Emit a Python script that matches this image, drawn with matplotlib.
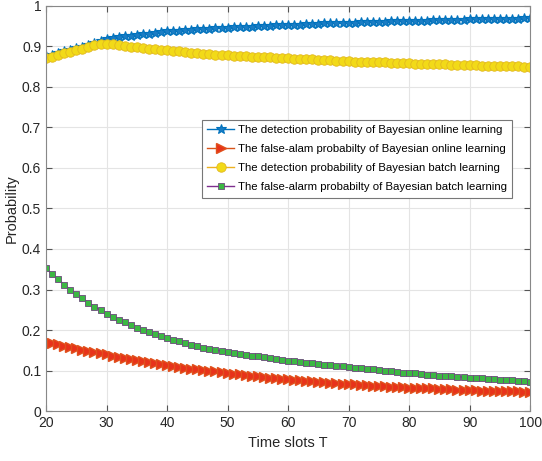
import matplotlib

matplotlib.use("Agg")
import matplotlib.pyplot as plt

plt.rcParams["font.family"] = ["Liberation Sans", "DejaVu Sans"]

# Time slots T = 20 .. 100 (one marker per slot)
time_slots = list(range(20, 101))

# Values
online_detection = [
    .875, .879, .883, .887, .891, .895, .899, .903, .908, .913,
    .918, .920, .922, .924, .926, .928, .929, .931, .932, .934,
    .936, .937, .938, .939, .940, .941, .942, .943, .944, .944,
    .945, .946, .947, .947, .948, .949, .949, .950, .951, .951,
    .952, .953, .953, .954, .954, .955, .956, .956, .957, .957,
    .958, .958, .959, .959, .960, .960, .960, .961, .961, .962,
    .962, .962, .963, .963, .964, .964, .964, .965, .965, .965,
    .966, .966, .966, .967, .967, .967, .968, .968, .968, .969,
    .969,
]
online_false_alarm = [
    .171, .168, .165, .161, .158, .155, .152, .149, .146, .143,
    .140, .137, .134, .131, .129, .126, .124, .121, .119, .116,
    .114, .112, .110, .107, .105, .103, .101, .099, .098, .096,
    .094, .092, .091, .089, .088, .086, .085, .083, .082, .080,
    .079, .078, .076, .075, .074, .073, .072, .070, .069, .068,
    .067, .066, .065, .064, .063, .062, .061, .060, .060, .059,
    .058, .057, .057, .056, .056, .055, .054, .054, .053, .053,
    .052, .052, .051, .051, .050, .050, .050, .049, .049, .048,
    .048,
]
batch_detection = [
    .870, .874, .878, .882, .886, .890, .894, .898, .902, .906,
    .905, .904, .902, .901, .899, .897, .896, .894, .893, .891,
    .890, .888, .887, .885, .884, .882, .881, .880, .879, .878,
    .877, .876, .875, .875, .874, .873, .872, .872, .871, .870,
    .870, .869, .868, .868, .867, .866, .866, .865, .864, .864,
    .863, .862, .862, .861, .861, .860, .860, .859, .859, .858,
    .858, .857, .857, .856, .856, .855, .855, .854, .854, .853,
    .853, .853, .852, .852, .851, .851, .850, .850, .850, .849,
    .849,
]
batch_false_alarm = [
    .352, .338, .325, .312, .300, .288, .278, .267, .258, .249,
    .240, .233, .226, .219, .212, .206, .201, .195, .190, .185,
    .180, .176, .172, .168, .164, .160, .157, .154, .151, .148,
    .146, .144, .141, .139, .137, .135, .133, .131, .129, .127,
    .125, .123, .122, .120, .118, .117, .115, .114, .112, .111,
    .109, .107, .106, .104, .103, .101, .100, .098, .097, .095,
    .094, .093, .092, .090, .089, .088, .087, .086, .085, .084,
    .083, .082, .081, .080, .079, .078, .077, .076, .075, .074,
    .073,
]

labels = [
    "The detection probability of Bayesian online learning",
    "The false-alam probabilty of Bayesian online learning",
    "The detection probability of Bayesian batch learning",
    "The false-alarm probabilty of Bayesian batch learning",
]

fig = plt.figure(figsize=(5.42, 4.61), dpi=100)
ax = fig.add_axes([0.085, 0.108, 0.893, 0.88])

ax.plot(time_slots, online_detection, color="#0072BD", marker="*", markersize=7.5,
        markerfacecolor="#1a7cc4", markeredgecolor="#0072BD", markeredgewidth=0.8,
        linewidth=1, label=labels[0])
ax.plot(time_slots, online_false_alarm, color="#D95319", marker=">", markersize=6.5,
        markerfacecolor="#e8321a", markeredgecolor="#e0501c", linewidth=1, label=labels[1])
ax.plot(time_slots, batch_detection, color="#EDB120", marker="o", markersize=6.8,
        markerfacecolor="#f2da18", markeredgecolor="#e2b820", markeredgewidth=0.6,
        linewidth=1, label=labels[2])
ax.plot(time_slots, batch_false_alarm, color="#7E2F8E", marker="s", markersize=5,
        markerfacecolor="#3cb843", markeredgecolor="#6a4a7a", markeredgewidth=0.6,
        linewidth=1, label=labels[3])

ax.set_xlim(20, 100)
ax.set_ylim(0, 1)
ax.set_xticks(range(20, 101, 10))
ax.set_yticks([i / 10 for i in range(11)])
ax.set_yticklabels(["0", "0.1", "0.2", "0.3", "0.4", "0.5", "0.6", "0.7", "0.8", "0.9", "1"])
ax.grid(True, color="#e4e4e4", linewidth=0.8)
ax.set_axisbelow(True)
ax.tick_params(direction="in", top=True, right=True, labelsize=10, length=4,
               color="#555555", labelcolor="#262626")
for spine in ax.spines.values():
    spine.set_color("#888888")
    spine.set_linewidth(0.8)

ax.set_xlabel("Time slots T", fontsize=10.5, color="#262626", labelpad=4)
ax.set_ylabel("Probability", fontsize=10.5, color="#262626", labelpad=2)

leg = ax.legend(loc="upper left", bbox_to_anchor=(0.322, 0.718), borderaxespad=0,
                fontsize=8.2, frameon=True, fancybox=False, edgecolor="#777777",
                framealpha=1, handlelength=2.4, handletextpad=0.35, borderpad=0.45,
                labelspacing=0.8)
leg.get_frame().set_linewidth(0.8)

fig.savefig("out.png", dpi=100)
